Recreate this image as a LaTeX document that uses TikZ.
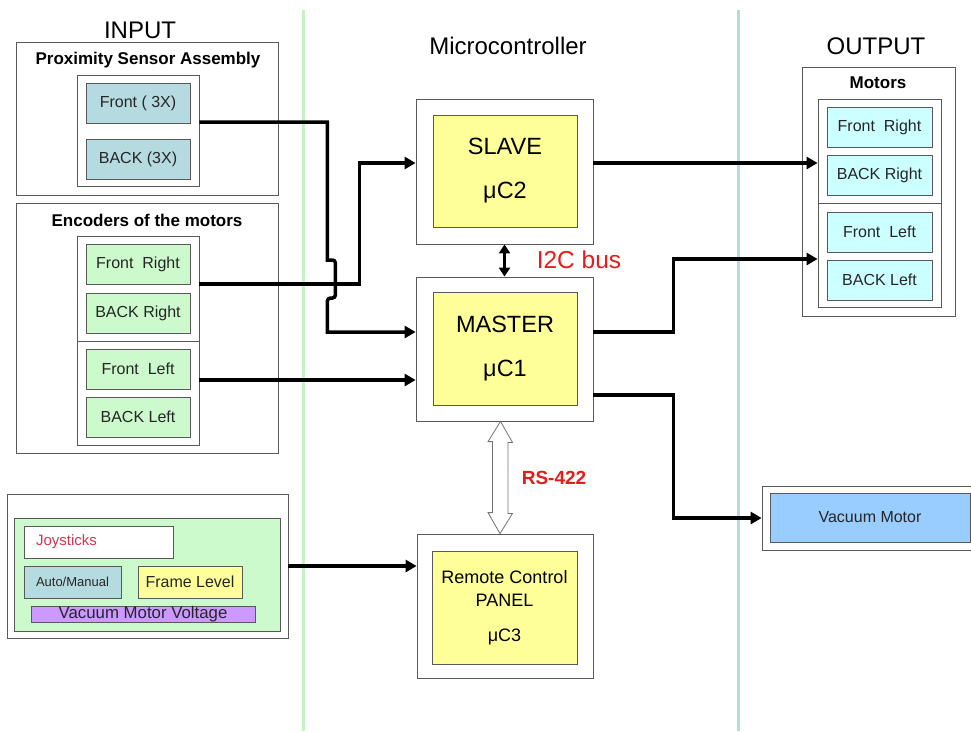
\documentclass[tikz,border=0pt]{standalone}
\usepackage{fontspec}
\setmainfont{Liberation Sans}
\usepackage{xcolor}
\usepackage{tikz}
\usetikzlibrary{positioning,calc,arrows.meta}

\definecolor{sensorblue}{RGB}{181,219,224}
\definecolor{encgreen}{RGB}{204,250,204}
\definecolor{cpuyellow}{RGB}{255,255,153}
\definecolor{motorcyan}{RGB}{204,255,255}
\definecolor{vacblue}{RGB}{153,204,255}
\definecolor{voltpurple}{RGB}{204,153,255}
\definecolor{joyred}{RGB}{205,55,80}
\definecolor{busred}{RGB}{228,28,28}
\definecolor{sepgreen}{RGB}{198,242,198}
\definecolor{sepblue}{RGB}{178,220,226}

\begin{document}
\begin{tikzpicture}[x=1pt,y=-1pt,
    panel/.style={draw=black!65, fill=white, line width=0.8pt, inner sep=0pt},
    cell/.style={draw=black!65, line width=0.8pt, inner sep=0pt, minimum width=104pt, minimum height=40pt,
                 font=\fontsize{16}{19}\selectfont, text=black!85},
    title/.style={font=\fontsize{24}{28}\selectfont},
    head/.style={font=\bfseries\fontsize{17}{20}\selectfont},
    cpu/.style={draw=black!65, fill=cpuyellow, line width=0.8pt, inner sep=0pt,
                minimum width=144pt, minimum height=112pt, align=center},
    wire/.style={line width=3.5pt, -{Triangle[length=11pt,width=12pt]}},
  ]
    \useasboundingbox (0,0) rectangle (971,731);
    \fill[white] (0,0) rectangle (971,731);

    % Column separators
    \draw[line width=3pt, sepgreen] (303,10) -- (303,731);
    \draw[line width=3pt, sepblue] (738,10) -- (738,731);

    % Column titles
    \node[title] (intitle) at (140,30) {INPUT};
    \node[title] (mctitle) at (508,46) {Microcontroller};
    \node[title] (outtitle) at (876,46) {OUTPUT};

    % Proximity sensors
    \node[panel, minimum width=262pt, minimum height=153pt] (prox) at (147,118.5) {};
    \node[head] (proxhead) at (148,60) {Proximity Sensor Assembly};
    \node[panel, minimum width=122pt, minimum height=111pt] (proxgrp) at (138,130.5) {};
    \node[cell, fill=sensorblue] (fprox) at (138,103) {Front ( 3X)};
    \node[cell, fill=sensorblue] (bprox) at (138,159) {BACK (3X)};

    % Motor encoders
    \node[panel, minimum width=262pt, minimum height=250pt] (enc) at (147,328) {};
    \node[head] (enchead) at (147,220) {Encoders of the motors};
    \node[panel, minimum width=122pt, minimum height=105pt] (encgrpR) at (138,288.5) {};
    \node[panel, minimum width=122pt, minimum height=104pt] (encgrpL) at (138,393) {};
    \node[cell, fill=encgreen] (efr) at (138,264) {Front~~Right};
    \node[cell, fill=encgreen] (ebr) at (138,313) {BACK Right};
    \node[cell, fill=encgreen] (efl) at (138,369) {Front~~Left};
    \node[cell, fill=encgreen] (ebl) at (138,417) {BACK Left};

    % Remote control inputs
    \node[panel, minimum width=281pt, minimum height=144pt] (joypanel) at (147.5,566) {};
    \node[cell, fill=encgreen, minimum width=266pt, minimum height=113pt] (joyarea) at (147,574.5) {};
    \node[cell, fill=white, minimum width=149pt, minimum height=32pt, text width=125pt, align=left,
          text=joyred, font=\fontsize{15}{18}\selectfont] (joy) at (98.5,542) {Joysticks};
    \node[cell, fill=sensorblue, minimum width=97pt, minimum height=32pt,
          font=\fontsize{13}{15}\selectfont] (automan) at (72.5,582) {Auto/Manual};
    \node[cell, fill=cpuyellow, minimum height=32pt] (frame) at (190,582) {Frame Level};
    \node[cell, fill=voltpurple, minimum width=224pt, minimum height=16pt,
          font=\fontsize{16.8}{19}\selectfont] (volt) at (143,614) {Vacuum Motor Voltage};

    % Microcontrollers
    \node[panel, minimum width=177pt, minimum height=145pt] (slave) at (504.5,171.5) {};
    \node[cpu, font=\fontsize{23.5}{44}\selectfont] (slavecpu) at (505,171) {SLAVE\\μC2};
    \node[panel, minimum width=177pt, minimum height=144pt] (master) at (504.5,349) {};
    \node[cpu, minimum height=113pt, font=\fontsize{23.5}{44}\selectfont] (mastercpu) at (505,348.5) {MASTER\\μC1};
    \node[panel, minimum width=176pt, minimum height=144pt] (remote) at (505,606) {};
    \node[cpu, minimum width=145pt, minimum height=113pt, font=\fontsize{18}{23}\selectfont]
        (remotecpu) at (504.5,608) {Remote Control\\PANEL\\[12pt]μC3};

    % Outputs
    \node[panel, minimum width=153pt, minimum height=249pt] (motors) at (878.5,191.5) {};
    \node[head] (mothead) at (878,83) {Motors};
    \node[panel, minimum width=123pt, minimum height=104pt] (motgrpR) at (879.5,151) {};
    \node[panel, minimum width=123pt, minimum height=104pt] (motgrpL) at (879.5,255) {};
    \node[cell, fill=motorcyan, minimum width=105pt] (mfr) at (879.5,127) {Front~~Right};
    \node[cell, fill=motorcyan, minimum width=105pt] (mbr) at (879.5,175) {BACK Right};
    \node[cell, fill=motorcyan, minimum width=105pt] (mfl) at (879.5,232) {Front~~Left};
    \node[cell, fill=motorcyan, minimum width=105pt] (mbl) at (879.5,280) {BACK Left};
    \node[panel, minimum width=209pt, minimum height=64pt] (vacuum) at (866.5,518) {};
    \node[cell, fill=vacblue, minimum width=200pt, minimum height=49pt] (vacmotor) at (870,517.5) {Vacuum Motor};

    % Wires into the controllers
    \draw[wire] ([yshift=8.5pt]proxgrp.east) -- ++(128,0) -- ++(0,138)
        [rounded corners=3pt] -- ++(8,0) -- ++(0,38) -- ++(-8,0) [sharp corners] |- ([yshift=17pt]master.west);
    \draw[wire] ([yshift=4.5pt]encgrpR.east) -- ++(160,0) |- ([yshift=8.5pt]slave.west);
    \draw[wire] ([yshift=13pt]encgrpL.east) coordinate (fl) -- (fl -| master.west);
    \draw[wire] (joypanel.east) -- (joypanel.east -| remote.west);

    % Wires out of the controllers
    \draw[wire] ([yshift=8.5pt]slave.east) coordinate (so) -- (so -| motgrpR.west);
    \draw[wire] ([yshift=17pt]master.east) -- ++(80,0) |- ([yshift=-4pt]motgrpL.west);
    \draw[wire] ([yshift=-46pt]master.east) -- ++(80,0) |- (vacuum.west);

    % Buses
    \draw[line width=3pt, {Triangle[length=9pt,width=11pt]}-{Triangle[length=9pt,width=11pt]}] (slave.south) -- (master.north);
    \node[text=busred, font=\fontsize{24.5}{28}\selectfont] (i2c) at (579,260) {I2C bus};
    \draw[draw=black!55, fill=white, line width=0.8pt] ([xshift=-4pt]master.south) -- ++(12,21) -- ++(-4.5,0)
        -- ++(0,71) -- ++(4.5,0) -- ([xshift=-5pt]remote.north) -- ++(-12,-21) -- ++(4.5,0)
        -- ++(0,-71) -- ++(-4.5,0) -- cycle;
    \node[text=busred, font=\bfseries\fontsize{19}{22}\selectfont] (rs) at (554,478) {RS-422};

\end{tikzpicture}
\end{document}
